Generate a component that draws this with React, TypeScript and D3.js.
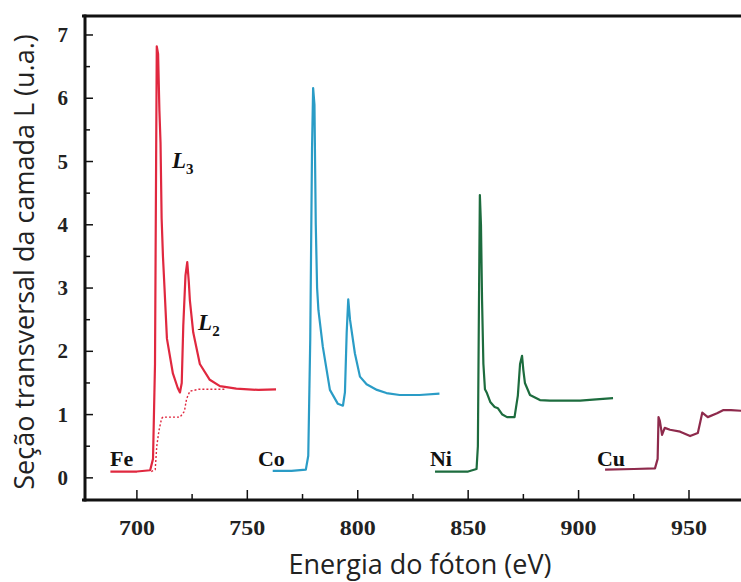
import React from 'react';
import * as d3 from 'd3';

const width = 741;
const height = 582;
const plotLeft = 85;
const plotRight = 742;
const plotTop = 16;
const plotBottom = 500;

// energy (eV), cross-section (a.u.)
const fe: [number, number][] = [
  [688, 0.1], [700, 0.1], [706, 0.12], [707.3, 0.3], [708.2, 1.8], [708.7, 5], [709, 6.82], [709.6, 6.7],
  [710.2, 5.8], [710.7, 5.3], [711.2, 4.1], [711.8, 3.5], [712.5, 3.0], [713.6, 2.2], [716.3, 1.65],
  [718.5, 1.42], [719.5, 1.35], [720.3, 1.5], [721, 2.4], [722, 3.2], [722.8, 3.41], [723.5, 3.1],
  [724, 2.8], [725.5, 2.3], [728.5, 1.8], [733, 1.55], [737.6, 1.45], [745, 1.41], [755, 1.39], [763, 1.4],
];
const feStep: [number, number][] = [
  [706.5, 0.1], [708.3, 0.13], [709, 0.5], [710, 0.75], [711.2, 0.94], [711.8, 0.96], [719.5, 0.96],
  [721.5, 1.05], [722.5, 1.25], [724, 1.37], [728, 1.4], [740, 1.4],
];
const co: [number, number][] = [
  [761.5, 0.11], [770, 0.11], [776.5, 0.13], [777.6, 0.35], [778.5, 2.2], [779.3, 5.2], [779.8, 6.16],
  [780.4, 5.9], [781, 4.0], [781.6, 3.0], [782.2, 2.65], [784.2, 2.07], [787.4, 1.39], [791, 1.17],
  [793.3, 1.14], [794.2, 1.35], [795, 2.3], [795.7, 2.82], [796.5, 2.5], [798.7, 1.97], [801, 1.6],
  [804, 1.48], [808.7, 1.39], [813, 1.34], [819, 1.31], [828, 1.31], [837, 1.33],
];
const ni: [number, number][] = [
  [835, 0.1], [850, 0.1], [853.8, 0.14], [854.4, 0.5], [854.9, 2.8], [855.3, 4.47], [855.8, 4.0],
  [856.3, 2.8], [856.9, 1.8], [857.6, 1.4], [858.5, 1.34], [860, 1.2], [862, 1.12], [863.5, 1.1],
  [865.5, 1.0], [867.6, 0.96], [871, 0.96], [872.5, 1.3], [873.5, 1.8], [874.4, 1.93], [875, 1.7],
  [875.7, 1.5], [878, 1.31], [882.5, 1.23], [887, 1.22], [900.7, 1.22], [908, 1.24], [915.6, 1.26],
];
const cu: [number, number][] = [
  [912, 0.13], [925, 0.14], [934.6, 0.15], [935.8, 0.3], [936.2, 0.96], [936.8, 0.9], [937.8, 0.68],
  [939, 0.79], [941.4, 0.76], [946, 0.73], [950.5, 0.66], [954, 0.71], [955.2, 0.9], [956, 1.03],
  [958.5, 0.96], [962.7, 1.02], [965.4, 1.07], [969, 1.07], [974, 1.06],
];

const series = [
  { name: 'Fe', data: fe, color: '#e0283f' },
  { name: 'Co', data: co, color: '#2a9cc6' },
  { name: 'Ni', data: ni, color: '#1d6c3e' },
  { name: 'Cu', data: cu, color: '#8e2a4c' },
];

// element labels: [text, energy, value]
const elementLabels: [string, number, number][] = [
  ['Fe', 687.8, 0.19], ['Co', 754.8, 0.19], ['Ni', 832.7, 0.19], ['Cu', 908.3, 0.19],
];
// edge labels: [letter, subscript, energy, value]
const edgeLabels: [string, string, number, number][] = [
  ['L', '3', 715.9, 4.9], ['L', '2', 727.7, 2.34],
];

const xTicks = [700, 750, 800, 850, 900, 950];
const xMinor = [725, 775, 825, 875, 925];
const yTicks = [0, 1, 2, 3, 4, 5, 6, 7];
const yMinor = [0.5, 1.5, 2.5, 3.5, 4.5, 5.5, 6.5];

const App = () => {
  const x = d3.scaleLinear().domain([676.5, 974]).range([plotLeft, plotRight]);
  const y = d3.scaleLinear().domain([-0.35, 7.3]).range([plotBottom, plotTop]);
  const line = d3
    .line<[number, number]>()
    .x((d) => x(d[0]))
    .y((d) => y(d[1]));

  const serif = '"Liberation Serif", "DejaVu Serif", serif';
  const sans = '"Open Sans", "Noto Sans", sans-serif';

  return (
    <svg width={width} height={height} style={{ position: 'absolute', left: 0, top: 0, background: '#fff' }}>
      {/* curves */}
      <path d={line(feStep) || ''} fill="none" stroke="#e0283f" strokeWidth={1.4} strokeDasharray="2,2" />
      {series.map((s) => (
        <path key={s.name} d={line(s.data) || ''} fill="none" stroke={s.color} strokeWidth={2.2} strokeLinejoin="round" />
      ))}

      {/* frame */}
      <line x1={plotLeft - 3} x2={width} y1={plotTop} y2={plotTop} stroke="#111" strokeWidth={3} />
      <line x1={plotLeft} x2={plotLeft} y1={plotTop - 1.5} y2={plotBottom + 1.5} stroke="#111" strokeWidth={3} />
      <line x1={plotLeft - 3} x2={width} y1={plotBottom} y2={plotBottom} stroke="#111" strokeWidth={3} />

      {/* x ticks */}
      {xTicks.map((t) => (
        <g key={t}>
          <line x1={x(t)} x2={x(t)} y1={plotBottom} y2={plotBottom - 10} stroke="#111" strokeWidth={1.5} />
          <text
            x={x(t) - 18}
            y={535}
            textLength={36}
            lengthAdjust="spacingAndGlyphs"
            fontFamily={serif}
            fontWeight="bold"
            fontSize={21}
            fill="#222"
          >
            {t}
          </text>
        </g>
      ))}
      {xMinor.map((t) => (
        <line key={t} x1={x(t)} x2={x(t)} y1={plotBottom} y2={plotBottom - 6} stroke="#111" strokeWidth={1.5} />
      ))}

      {/* y ticks */}
      {yTicks.map((t) => (
        <g key={t}>
          <line x1={plotLeft} x2={plotLeft + 8} y1={y(t)} y2={y(t)} stroke="#111" strokeWidth={1.5} />
          <text x={68} y={y(t) + 7} textAnchor="end" fontFamily={serif} fontWeight="bold" fontSize={21} fill="#222">
            {t}
          </text>
        </g>
      ))}
      {yMinor.map((t) => (
        <line key={t} x1={plotLeft} x2={plotLeft + 5} y1={y(t)} y2={y(t)} stroke="#111" strokeWidth={1.5} />
      ))}

      {/* labels */}
      {elementLabels.map(([name, e, v]) => (
        <text key={name} x={x(e)} y={y(v)} fontFamily={serif} fontWeight="bold" fontSize={22} fill="#111">
          {name}
        </text>
      ))}
      {edgeLabels.map(([l, sub, e, v]) => (
        <text key={sub} x={x(e)} y={y(v)} fontFamily={serif} fontStyle="italic" fontWeight="bold" fontSize={23} fill="#111">
          {l}
          <tspan dy={6} fontSize={15} fontStyle="normal">
            {sub}
          </tspan>
        </text>
      ))}

      {/* axis titles */}
      <text x={420} y={574} textAnchor="middle" fontFamily={sans} fontSize={27} fill="#222">
        Energia do fóton (eV)
      </text>
      <text
        transform={`translate(34, 262) rotate(-90)`}
        textAnchor="middle"
        fontFamily={sans}
        fontSize={27}
        fill="#222"
      >
        Seção transversal da camada L (u.a.)
      </text>
    </svg>
  );
};

export default App;
